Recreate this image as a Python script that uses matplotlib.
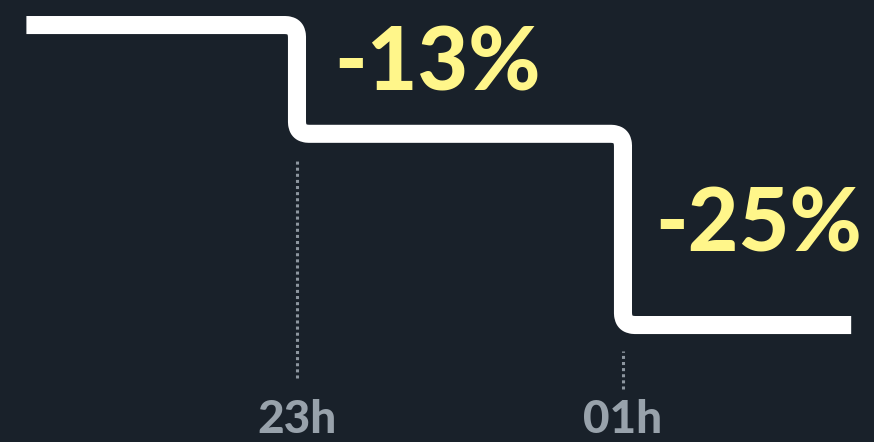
import numpy as np
import matplotlib.pyplot as plt
from matplotlib.path import Path
from matplotlib.patches import PathPatch

# data (hours on a continuous axis, 25 = 01h next day)
x_start = 21.34
x_end = 26.40
step_hours = [23, 25]
levels = [100, 87.4, 65.25]
drop_labels = ['-13%', '-25%']
tick_hours = [23, 25]
tick_labels = ['23h', '01h']

BG = '#19212a'
LINE = '#ffffff'
YELLOW = '#fff68a'
GRAY = '#98a2ab'
DOTS = '#8d969f'

plt.rcParams['font.family'] = ['Lato', 'DejaVu Sans']

fig = plt.figure(figsize=(8.74, 4.42), dpi=100, facecolor=BG)
ax = fig.add_axes([0, 0, 1, 1], facecolor=BG)
ax.set_xlim(21.178, 26.54)
ax.set_ylim(51.7, 102.9)
ax.axis('off')

# step path with rounded corners (radius given in pixels, converted per axis)
r_px = 12
px_x = 874 / (26.54 - 21.178)
px_y = 442 / (102.9 - 51.7)
rx, ry = r_px / px_x, r_px / px_y

verts = [(x_start, levels[0])]
codes = [Path.MOVETO]
for i, xs in enumerate(step_hours):
    y0, y1 = levels[i], levels[i + 1]
    verts += [(xs - rx, y0), (xs, y0), (xs, y0 - ry)]
    codes += [Path.LINETO, Path.CURVE3, Path.CURVE3]
    verts += [(xs, y1 + ry), (xs, y1), (xs + rx, y1)]
    codes += [Path.LINETO, Path.CURVE3, Path.CURVE3]
verts.append((x_end, levels[-1]))
codes.append(Path.LINETO)
ax.add_patch(PathPatch(Path(verts, codes), fill=False, edgecolor=LINE,
                       lw=13, capstyle='butt', joinstyle='round'))

# dotted guides under each step
guide_spans = [(0.145, 0.640), (0.120, 0.206)]
for xs, (lo, hi) in zip(step_hours, guide_spans):
    ax.axvline(xs, ymin=lo, ymax=hi, color=DOTS, lw=2.2,
               linestyle=(0, (1, 1)), solid_capstyle='butt')

# drop labels
label_offsets = [(27, -47), (23, -85)]
for xs, y0, txt, off in zip(step_hours, levels[:-1], drop_labels, label_offsets):
    ax.annotate(txt, xy=(xs, y0), xytext=off, textcoords='offset points',
                ha='left', va='baseline', color=YELLOW, fontsize=63,
                fontweight='black')

# hour labels
for xh, lab in zip(tick_hours, tick_labels):
    ax.text(xh, 0.05, lab, transform=ax.get_xaxis_transform(), ha='center',
            va='center', color=GRAY, fontsize=33, fontweight='black')

fig.savefig('out.png', dpi=100, facecolor=BG)
